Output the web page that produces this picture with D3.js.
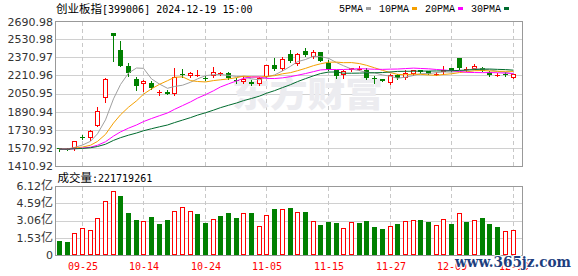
<!DOCTYPE html>
<html>
<head>
<meta charset="utf-8">
<script src="https://d3js.org/d3.v7.min.js"></script>
<style>
  body { margin: 0; background: #fff; }
  svg { display: block; }
  .mono { font-family: "DejaVu Sans Mono", monospace; font-size: 10px; }
  .cjk { font-family: "Noto Sans CJK SC", sans-serif; font-size: 11.5px; }
  .ylab { font-family: "DejaVu Sans", sans-serif; font-size: 11px; fill: #333; }
  .leg { font-family: "Liberation Mono", monospace; font-size: 10px; }
</style>
</head>
<body>
<script>
// trading days shown
var dates = ["09-20","09-23","09-24","09-25","09-26","09-27","09-30","10-08","10-09","10-10",
  "10-11","10-14","10-15","10-16","10-17","10-18","10-21","10-22","10-23","10-24",
  "10-25","10-28","10-29","10-30","10-31","11-01","11-04","11-05","11-06","11-07",
  "11-08","11-11","11-12","11-13","11-14","11-15","11-18","11-19","11-20","11-21",
  "11-22","11-25","11-26","11-27","11-28","11-29","12-02","12-03","12-04","12-05",
  "12-06","12-09","12-10","12-11","12-12","12-13","12-16","12-17","12-18","12-19"];

var open = [1566,1562,1571,1667,1654,1768,2010,2583,2434,2296,
  2180,2136,2147,2060,2068,2044,2222,2209,2210,2187,
  2209,2227,2235,2172,2156,2156,2133,2200,2302,2264,
  2404,2311,2422,2370,2416,2318,2255,2215,2256,2267,
  2262,2186,2176,2147,2215,2186,2221,2259,2250,2222,
  2244,2273,2367,2256,2268,2273,2244,2207,2222,2186];
var high = [1568,1567,1632,1683,1729,1928,2191,2586,2516,2320,
  2200,2171,2162,2083,2086,2278,2264,2241,2259,2205,
  2285,2243,2244,2191,2209,2170,2195,2305,2364,2375,
  2434,2410,2452,2435,2420,2350,2262,2258,2278,2290,
  2272,2205,2180,2222,2222,2258,2262,2262,2253,2240,
  2296,2280,2368,2288,2314,2285,2246,2235,2240,2222];
var low = [1545,1556,1548,1645,1642,1765,1975,2340,2290,2206,
  2080,2075,2095,2040,2043,2042,2194,2194,2208,2170,
  2194,2215,2183,2141,2141,2130,2130,2198,2255,2260,
  2325,2305,2378,2365,2338,2260,2192,2190,2250,2255,
  2180,2148,2158,2132,2182,2183,2218,2236,2219,2215,
  2221,2250,2266,2250,2265,2248,2205,2206,2205,2185];
var close = [1562,1559,1630,1663,1724,1893,2180,2560,2294,2229,
  2118,2162,2098,2064,2045,2194,2218,2229,2216,2184,
  2238,2230,2185,2170,2180,2133,2191,2302,2268,2355,
  2338,2399,2393,2415,2340,2265,2206,2252,2272,2270,
  2184,2183,2163,2215,2186,2229,2259,2240,2222,2226,
  2262,2252,2273,2266,2293,2251,2216,2210,2219,2221];
var prevClose = 1570;

// volume in 亿
var volume = [1.27,1.18,1.95,2.37,2.22,3.26,4.76,5.65,5.23,3.75,
  3.10,2.99,3.34,2.75,3.10,3.93,4.23,3.90,3.64,2.87,
  3.16,3.46,3.75,3.28,3.73,3.75,2.57,3.55,4.08,4.05,
  4.17,3.81,3.81,3.02,2.66,2.93,2.87,2.37,2.93,2.87,
  3.02,2.51,2.31,2.57,2.75,2.99,3.08,3.10,2.93,2.66,
  3.16,2.75,3.73,2.93,3.08,3.28,2.75,2.48,2.13,2.217];

var ma5 = [1560,1561,1575,1596,1629,1695,1818,2004,2130,2231,
  2276,2273,2180,2134,2097,2113,2124,2150,2180,2208,
  2217,2219,2211,2201,2201,2180,2172,2195,2215,2250,
  2291,2332,2351,2380,2377,2362,2324,2296,2267,2253,
  2237,2233,2215,2203,2186,2195,2210,2226,2227,2235,
  2242,2240,2247,2256,2269,2267,2260,2247,2238,2223];
var ma10 = [1560,1561,1568,1578,1594,1628,1690,1790,1863,1930,
  1986,2045,2092,2132,2164,2194,2198,2165,2157,2153,
  2165,2172,2180,2191,2204,2198,2196,2203,2208,2225,
  2235,2252,2273,2297,2313,2327,2328,2323,2324,2315,
  2300,2278,2255,2235,2220,2216,2222,2220,2215,2211,
  2219,2225,2236,2242,2252,2254,2250,2247,2247,2246];
var ma20 = [1560,1560,1564,1569,1577,1594,1625,1675,1712,1745,
  1773,1803,1830,1855,1879,1911,1944,1977,2010,2041,
  2075,2109,2136,2162,2184,2196,2197,2184,2183,2189,
  2200,2212,2227,2244,2259,2263,2262,2263,2266,2270,
  2268,2265,2264,2266,2267,2271,2275,2272,2269,2263,
  2259,2252,2246,2238,2236,2235,2236,2234,2231,2228];
var ma30 = [1560,1560,1563,1566,1572,1583,1603,1637,1661,1683,
  1702,1722,1740,1757,1773,1794,1816,1838,1860,1881,
  1904,1926,1947,1967,1988,2007,2028,2053,2076,2103,
  2129,2156,2182,2207,2227,2240,2241,2230,2230,2231,
  2233,2234,2236,2241,2246,2247,2248,2249,2249,2250,
  2251,2252,2255,2258,2262,2266,2267,2264,2262,2257];

var priceTicks = [2690.98, 2530.98, 2370.97, 2210.96, 2050.95, 1890.94, 1730.93, 1570.92, 1410.92];
var volTicks = [6.12, 4.59, 3.06, 1.53, 0];
var xTicks = ["09-25","10-14","10-24","11-05","11-15","11-27","12-09","12-19"];
var maNames = ["5PMA","10PMA","20PMA","30PMA"];
var maColors = ["#a0a0a0","#f5a000","#ff00ff","#006b2e"];
var lastVol = "221719261";

var UP = "#ff0000", DOWN = "#008000";

var svg = d3.select("body").append("svg").attr("width", 578).attr("height", 276);

var x = d3.scaleBand().domain(dates).range([56, 517.4]);
var y = d3.scaleLinear().domain([1410.92, 2690.98]).range([166, 21]);
var yv = d3.scaleLinear().domain([0, 6.12]).range([255, 186]);

function cx(d) { return Math.round(x(d) + x.bandwidth() / 2); }
function px(v) { return Math.round(v) + 0.5; }

// ---- background: grid, watermark
var back = svg.append("g").attr("shape-rendering", "crispEdges");

back.selectAll(".pg").data(priceTicks.slice(1, -1)).enter().append("line")
  .attr("x1", 56).attr("x2", 522)
  .attr("y1", function (t) { return px(y(t)); })
  .attr("y2", function (t) { return px(y(t)); })
  .attr("stroke", "#d0d0d0");

back.selectAll(".vg").data(volTicks.slice(1, -1)).enter().append("line")
  .attr("x1", 56).attr("x2", 522)
  .attr("y1", function (t) { return px(yv(t)); })
  .attr("y2", function (t) { return px(yv(t)); })
  .attr("stroke", "#d0d0d0");

xTicks.forEach(function (d) {
  var xx = cx(d) - 0.5;
  back.append("line").attr("x1", xx).attr("x2", xx).attr("y1", 22).attr("y2", 166)
    .attr("stroke", "#c8c8c8").attr("stroke-dasharray", "4,3");
  back.append("line").attr("x1", xx).attr("x2", xx).attr("y1", 187).attr("y2", 255)
    .attr("stroke", "#c8c8c8").attr("stroke-dasharray", "4,3");
});

svg.append("text")
  .attr("x", 232).attr("y", 107)
  .attr("textLength", 151).attr("lengthAdjust", "spacingAndGlyphs")
  .style("font-family", "Noto Sans CJK SC").style("font-size", "35px").style("font-weight", 900)
  .style("fill", "#ececf0")
  .text("东方财富");

// panel frames
svg.append("rect").attr("x", 55.5).attr("y", 21.5).attr("width", 467).attr("height", 145)
  .attr("fill", "none").attr("stroke", "#999").attr("shape-rendering", "crispEdges");
svg.append("rect").attr("x", 55.5).attr("y", 186.5).attr("width", 467).attr("height", 69)
  .attr("fill", "none").attr("stroke", "#999").attr("shape-rendering", "crispEdges");

// ---- candles
var cg = svg.append("g").attr("shape-rendering", "crispEdges");
dates.forEach(function (d, i) {
  var c = cx(d);
  var up = close[i] >= open[i];
  var col = up ? UP : DOWN;
  var top = Math.round(y(Math.max(open[i], close[i])));
  var bot = Math.round(y(Math.min(open[i], close[i])));
  cg.append("line").attr("x1", c - 0.5).attr("x2", c - 0.5)
    .attr("y1", Math.round(y(high[i]))).attr("y2", Math.round(y(low[i])) + 1)
    .attr("stroke", col);
  if (bot - top < 2) {
    cg.append("line").attr("x1", c - 3).attr("x2", c + 2)
      .attr("y1", top + 0.5).attr("y2", top + 0.5).attr("stroke", col);
  } else if (up) {
    cg.append("rect").attr("x", c - 2.5).attr("y", top + 0.5)
      .attr("width", 4).attr("height", bot - top - 1)
      .attr("fill", "#fff").attr("stroke", col);
  } else {
    cg.append("rect").attr("x", c - 3).attr("y", top)
      .attr("width", 5).attr("height", bot - top).attr("fill", col);
  }
});

// ---- moving averages
var mas = [ma5, ma10, ma20, ma30];
var line = d3.line()
  .x(function (v, i) { return cx(dates[i]) - 0.5; })
  .y(function (v) { return y(v); });
mas.forEach(function (m, k) {
  svg.append("path").attr("d", line(m)).attr("fill", "none")
    .attr("stroke", maColors[k]).attr("stroke-width", 1);
});

// ---- volume
var vg = svg.append("g").attr("shape-rendering", "crispEdges");
dates.forEach(function (d, i) {
  var c = cx(d);
  var up = close[i] >= (i ? close[i - 1] : prevClose);
  var top = Math.round(yv(volume[i]));
  if (up) {
    vg.append("rect").attr("x", c - 2.5).attr("y", top + 0.5)
      .attr("width", 4).attr("height", 254 - top)
      .attr("fill", "#fff").attr("stroke", UP);
  } else {
    vg.append("rect").attr("x", c - 3).attr("y", top)
      .attr("width", 5).attr("height", 255 - top).attr("fill", DOWN);
  }
});

// ---- axis labels
svg.selectAll(".pl").data(priceTicks).enter().append("text")
  .attr("class", "ylab").attr("text-anchor", "end")
  .attr("x", 53).attr("y", function (t) { return Math.max(y(t), 22.5); })
  .attr("dy", "0.36em")
  .text(function (t) { return t.toFixed(2); });

volTicks.forEach(function (t) {
  var tx = svg.append("text").attr("class", "ylab").attr("text-anchor", "end")
    .attr("x", 53).attr("y", yv(t)).attr("dy", "0.36em");
  if (t === 0) { tx.text("0"); return; }
  tx.append("tspan").text(t.toFixed(2));
  tx.append("tspan").style("font-family", "Noto Sans CJK SC").style("font-size", "12px").text("亿");
});

svg.selectAll(".xl").data(xTicks).enter().append("text")
  .attr("class", "mono").attr("text-anchor", "middle")
  .attr("x", function (d) { return cx(d); }).attr("y", 270)
  .style("fill", "#ff0000")
  .text(function (d) { return d; });

// ---- titles
var title = svg.append("text").attr("x", 56).attr("y", 12.5).style("fill", "#000");
title.append("tspan").attr("class", "cjk").text("创业板指");
title.append("tspan").attr("class", "mono").text("[399006] 2024-12-19 15:00");

var vt = svg.append("text").attr("x", 57.5).attr("y", 181.5).style("fill", "#000");
vt.append("tspan").attr("class", "cjk").text("成交量");
vt.append("tspan").attr("class", "mono").text(":" + lastVol);

// ---- legend
var lx = 339;
maNames.forEach(function (n, k) {
  svg.append("text").attr("class", "leg").attr("x", lx).attr("y", 12).style("fill", "#000").text(n);
  lx += n.length * 6 + 3;
  svg.append("rect").attr("x", lx).attr("y", 7).attr("width", 5).attr("height", 3)
    .attr("fill", maColors[k]).attr("shape-rendering", "crispEdges");
  lx += 5 + 8;
});

// ---- site mark (sits over the last tick labels, as in the source image)
svg.append("text")
  .attr("x", 455).attr("y", 267)
  .attr("textLength", 116).attr("lengthAdjust", "spacingAndGlyphs")
  .style("font-family", "DejaVu Serif").style("font-weight", "bold").style("font-size", "15px")
  .style("fill", "#1d3e7e").style("stroke", "#fff").style("stroke-width", 2)
  .style("paint-order", "stroke")
  .text("www.365jz.com");
</script>
</body>
</html>
